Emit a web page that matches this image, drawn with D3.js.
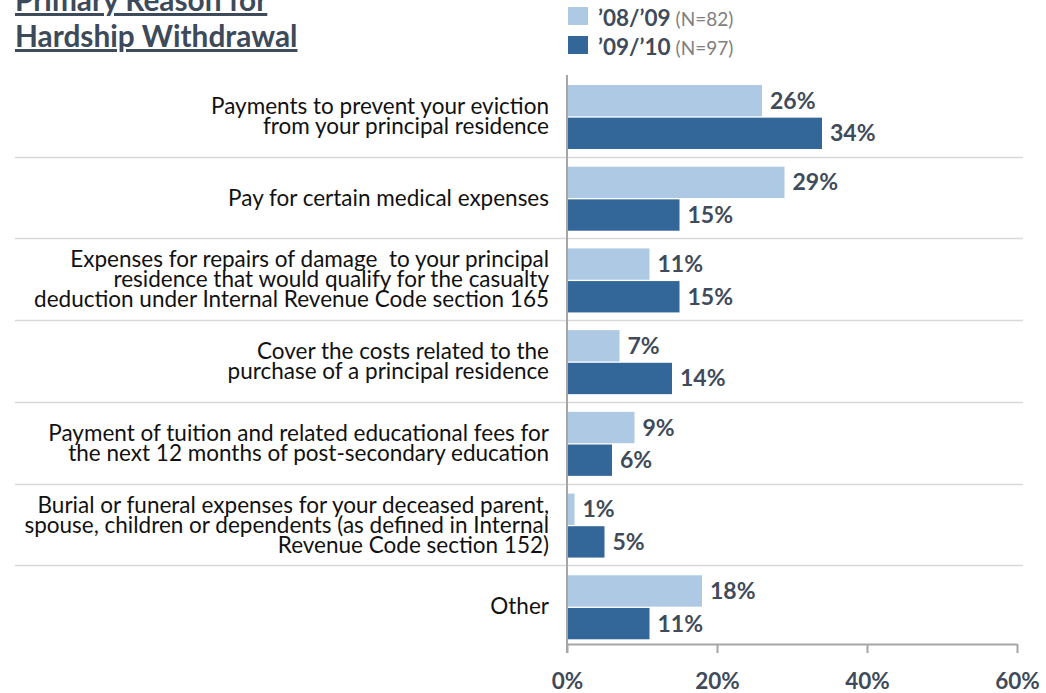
<!DOCTYPE html>
<html>
<head>
<meta charset="utf-8">
<script src="https://cdn.jsdelivr.net/npm/d3@7"></script>
<style>
  html, body { margin: 0; padding: 0; background: #ffffff; }
  svg { display: block; font-family: Lato, "Open Sans", sans-serif; }
</style>
</head>
<body>
<svg id="chart" width="1046" height="693"></svg>
<script>
// ---------- data ----------
const titleLines = ["Primary Reason for", "Hardship Withdrawal"];
const categories = [
  ["Payments to prevent your eviction", "from your principal residence"],
  ["Pay for certain medical expenses"],
  ["Expenses for repairs of damage  to your principal", "residence that would qualify for the casualty", "deduction under Internal Revenue Code section 165"],
  ["Cover the costs related to the", "purchase of a principal residence"],
  ["Payment of tuition and related educational fees for", "the next 12 months of post-secondary education"],
  ["Burial or funeral expenses for your deceased parent,", "spouse, children or dependents (as defined in Internal", "Revenue Code section 152)"],
  ["Other"]
];
const seriesNames = ["\u201908/\u201909", "\u201909/\u201910"];
const seriesN = ["(N=82)", "(N=97)"];
const values0809 = [26, 29, 11, 7, 9, 1, 18];
const values0910 = [34, 15, 15, 14, 6, 5, 11];
const tickValues = [0, 20, 40, 60];

// ---------- style ----------
const colors = ["#adc9e4", "#336699"];
const textDark = "#3f4b5a";

const svg = d3.select("#chart");

const x = d3.scaleLinear().domain([0, 60]).range([567, 1017]);
const y0 = d3.scaleBand().domain(d3.range(categories.length)).range([75, 647]).padding(0);
const y1 = d3.scaleBand().domain([0, 1]).range([10, 74]).paddingInner(0.04).paddingOuter(0);

// separators
svg.append("g").selectAll("line")
  .data(d3.range(1, categories.length))
  .join("line")
  .attr("x1", 15).attr("x2", 1023)
  .attr("y1", i => Math.round(y0(i)) + 0.5)
  .attr("y2", i => Math.round(y0(i)) + 0.5)
  .attr("stroke", "#d9d9d9").attr("stroke-width", 1.5);

// bars
const groups = svg.append("g").selectAll("g")
  .data(categories.map((c, i) => ({ i, vals: [values0809[i], values0910[i]] })))
  .join("g")
  .attr("transform", d => `translate(0,${y0(d.i)})`);

groups.selectAll("rect")
  .data(d => d.vals.map((v, s) => ({ v, s })))
  .join("rect")
  .attr("x", x(0))
  .attr("y", d => y1(d.s))
  .attr("width", d => x(d.v) - x(0))
  .attr("height", y1.bandwidth())
  .attr("fill", d => colors[d.s]);

groups.selectAll("text.val")
  .data(d => d.vals.map((v, s) => ({ v, s })))
  .join("text")
  .attr("class", "val")
  .attr("x", d => x(d.v) + 8)
  .attr("y", d => y1(d.s) + y1.bandwidth() / 2 + 8)
  .attr("font-size", 23)
  .attr("font-weight", 700)
  .attr("fill", textDark)
  .text(d => d.v + "%");

// category labels
const lineH = 20;
groups.append("text")
  .attr("text-anchor", "end")
  .attr("font-size", 22.5)
  .attr("fill", "#111")
  .attr("xml:space", "preserve")
  .style("white-space", "pre")
  .each(function(d) {
    const lines = categories[d.i];
    const c = 10 + 64 / 2;
    d3.select(this).selectAll("tspan")
      .data(lines)
      .join("tspan")
      .attr("x", 549)
      .attr("y", (l, k) => c + 7 + (k - (lines.length - 1) / 2) * lineH)
      .text(l => l);
  });

// vertical axis line
svg.append("line")
  .attr("x1", x(0)).attr("x2", x(0))
  .attr("y1", 75).attr("y2", 653)
  .attr("stroke", "#a6a6a6").attr("stroke-width", 2);

// bottom axis
const xAxis = d3.axisBottom(x)
  .tickValues(tickValues)
  .tickFormat(d => d + "%")
  .tickSize(9)
  .tickSizeOuter(0);
const ax = svg.append("g")
  .attr("transform", "translate(0,644)")
  .call(xAxis);
ax.select(".domain").attr("stroke", "#a6a6a6").attr("stroke-width", 2);
ax.selectAll(".tick line").attr("stroke", "#a6a6a6").attr("stroke-width", 2);
ax.selectAll(".tick text")
  .attr("y", 45).attr("dy", 0)
  .attr("font-family", "Lato, 'Open Sans', sans-serif")
  .attr("font-size", 22.5)
  .attr("font-weight", 700)
  .attr("fill", textDark);

// title
svg.append("g").selectAll("text")
  .data(titleLines)
  .join("text")
  .attr("x", 15)
  .attr("y", (d, i) => 11 + i * 36)
  .attr("font-size", 29.8)
  .attr("font-weight", 700)
  .attr("fill", "#3d4a5a")
  .style("text-decoration", "underline")
  .text(d => d);

// legend
const legendY = [7, 36];
const lg = svg.append("g").selectAll("g")
  .data(seriesNames.map((n, i) => ({ n, i })))
  .join("g");
lg.append("rect")
  .attr("x", 568).attr("y", d => legendY[d.i])
  .attr("width", 20).attr("height", 18)
  .attr("fill", d => colors[d.i]);
const lt = lg.append("text")
  .attr("x", 598).attr("y", d => legendY[d.i] + 19)
  .attr("fill", textDark);
lt.append("tspan")
  .attr("font-size", 22.5).attr("font-weight", 700)
  .text(d => d.n);
lt.append("tspan")
  .attr("dx", 5)
  .attr("font-size", 19).attr("fill", "#808080")
  .text(d => seriesN[d.i]);
</script>
</body>
</html>
